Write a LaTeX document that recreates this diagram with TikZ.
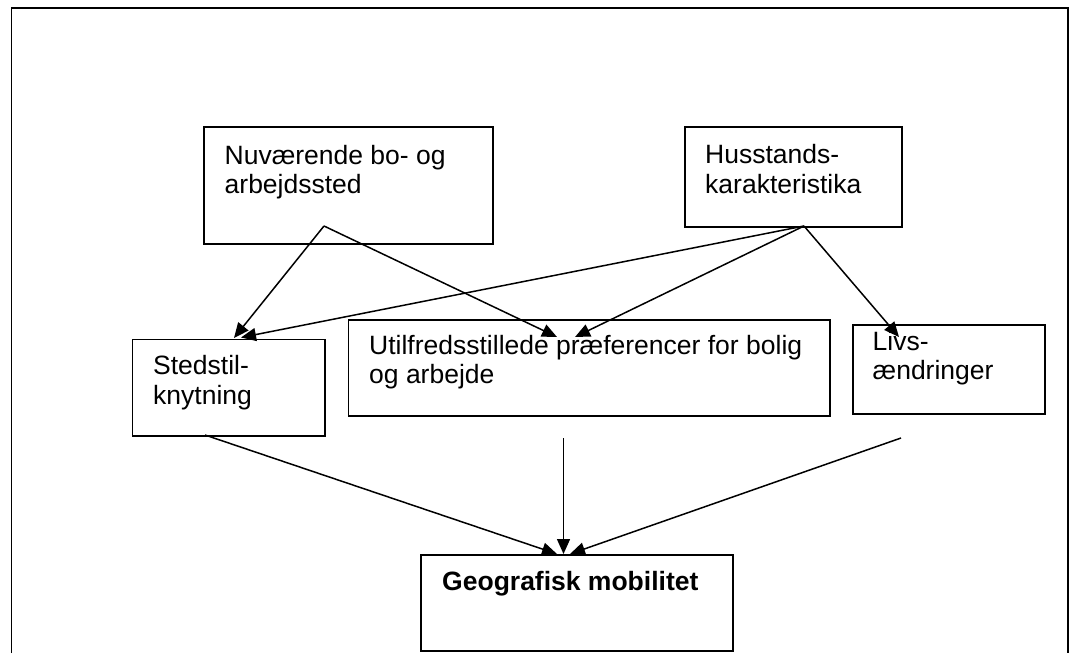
\documentclass[tikz,border=0pt]{standalone}
\usepackage{fontspec}
\setmainfont{Liberation Sans}
\usetikzlibrary{arrows.meta}
\begin{document}
\begin{tikzpicture}[x=1pt,y=-1pt,
  boxnode/.style={draw, line width=1.7pt, rectangle, inner sep=0pt, anchor=north west},
  txt/.style={anchor=base west, inner sep=0pt, font=\fontsize{26.5}{29.3}\selectfont},
  btxt/.style={txt, font=\fontsize{26.5}{29.3}\selectfont\bfseries},
  conn/.style={line width=1.5pt, -{Triangle[length=15pt,width=13pt]}}]
\useasboundingbox[fill=white] (0,0) rectangle (1075,653);
% outer frame (open at the bottom)
\draw[line width=1.9pt] (11.5,653) -- (11.5,8.3) -- (1068,8.3) -- (1068,653);
% boxes
\node[boxnode, minimum width=289pt, minimum height=117pt] (boxA) at (203,126) {};
\node[boxnode, minimum width=217pt, minimum height=100pt] (boxB) at (684,126) {};
\node[boxnode, minimum width=192.5pt, minimum height=96.5pt] (boxC) at (131.5,338.5) {};
\node[boxnode, minimum width=481.5pt, minimum height=96pt] (boxD) at (347.5,319) {};
\node[boxnode, minimum width=192pt, minimum height=88.6pt] (boxE) at (852,324.4) {};
\node[boxnode, minimum width=312pt, minimum height=96pt] (boxF) at (420,554) {};
% texts
\node[txt] (tA1) at (224.5,164.6) {Nuværende bo- og};
\node[txt] (tA2) at (224.5,193.5) {arbejdssted};
\node[txt] (tB1) at (705,163.6) {Husstands-};
\node[txt] (tB2) at (705,193) {karakteristika};
\node[txt] (tC1) at (153,374) {Stedstil-};
\node[txt] (tC2) at (153,404) {knytning};
\node[txt] (tD1) at (369,354) {Utilfredsstillede præferencer for bolig};
\node[txt] (tD2) at (369,383.5) {og arbejde};
\node[txt] (tE1) at (872.5,350) {Livs-};
\node[txt] (tE2) at (872.5,379.5) {ændringer};
\node[btxt] (tF1) at (442,590) {Geografisk mobilitet};
% connector end points
\coordinate (oA) at (324,226);
\coordinate (oB) at (804,226);
\coordinate (oC) at (205,435);
\coordinate (oD) at (563.5,438);
\coordinate (oE) at (901,438);
\coordinate (iCa) at (234,338);
\coordinate (iCb) at (241,337.5);
\coordinate (iDa) at (557,337);
\coordinate (iDb) at (575,337);
\coordinate (iE) at (899,337);
\coordinate (iFa) at (557,554);
\coordinate (iFb) at (563.5,554);
\coordinate (iFc) at (570,554);
% connectors
\draw[conn] (oA) -- (iCa);
\draw[conn] (oA) -- (iDa);
\draw[conn] (oB) -- (iCb);
\draw[conn] (oB) -- (iDb);
\draw[conn] (oB) -- (iE);
\draw[conn] (oC) -- (iFa);
\draw[conn] (oD) -- (iFb);
\draw[conn] (oE) -- (iFc);
\end{tikzpicture}
\end{document}
